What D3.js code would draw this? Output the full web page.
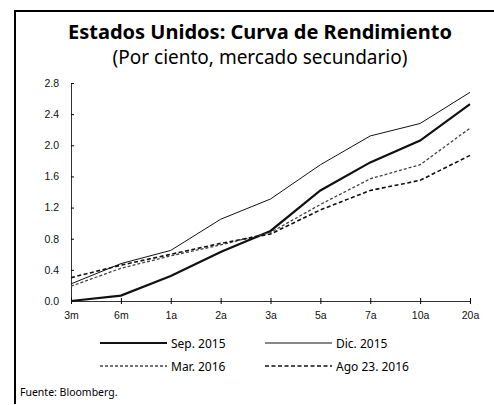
<!DOCTYPE html>
<html>
<head>
<meta charset="utf-8">
<script src="https://cdn.jsdelivr.net/npm/d3@7/dist/d3.min.js"></script>
<style>
  body{margin:0;background:#fff}
  svg{display:block;font-family:"Noto Sans",sans-serif}
</style>
</head>
<body>
<script>
  // datos
  const plazos = ["3m","6m","1a","2a","3a","5a","7a","10a","20a"]
  const sep2015 = [0.00,0.07,0.32,0.63,0.90,1.42,1.78,2.06,2.53]
  const dic2015 = [0.22,0.48,0.65,1.05,1.31,1.75,2.12,2.28,2.68]
  const mar2016 = [0.19,0.42,0.58,0.72,0.88,1.24,1.57,1.75,2.22]
  const ago2016 = [0.30,0.46,0.60,0.74,0.86,1.17,1.42,1.55,1.87]
  const yTicks = [0,0.4,0.8,1.2,1.6,2.0,2.4,2.8]

  const series = [
    {name:"Sep. 2015", values:sep2015, width:2.2, dash:null, color:"#111"},
    {name:"Dic. 2015", values:dic2015, width:1, dash:null, color:"#111"},
    {name:"Mar. 2016", values:mar2016, width:1.3, dash:"3,2", color:"#444"},
    {name:"Ago 23. 2016", values:ago2016, width:1.6, dash:"4,2.5", color:"#111"}
  ]

  const W = 494, H = 405
  const svg = d3.select("body").append("svg").attr("width",W).attr("height",H)

  // marco
  svg.append("path").attr("d",`M15,404 L15,11 L494,11`)
    .attr("fill","none").attr("stroke","#000").attr("stroke-width",2)

  svg.append("text").attr("x",260).attr("y",39).attr("text-anchor","middle")
    .attr("font-size",20).attr("font-weight","bold").text("Estados Unidos: Curva de Rendimiento")
  svg.append("text").attr("x",260).attr("y",64).attr("text-anchor","middle")
    .attr("font-size",19).text("(Por ciento, mercado secundario)")

  const x = d3.scalePoint().domain(plazos).range([71,470])
  const y = d3.scaleLinear().domain([0,2.8]).range([301,83])

  const yAxis = svg.append("g").attr("transform","translate(71,0)")
    .call(d3.axisLeft(y).tickValues(yTicks).tickFormat(d3.format(".1f")).tickSize(-3).tickPadding(12))
  yAxis.select(".domain").attr("stroke","#333")
  yAxis.selectAll("text").attr("font-size",10.5).attr("fill","#111")

  const xAxis = svg.append("g").attr("transform","translate(0,301)")
    .call(d3.axisBottom(x).tickSize(3).tickPadding(8))
  xAxis.select(".domain").attr("stroke","#333")
  xAxis.selectAll(".tick line").attr("y1",-3)
  xAxis.selectAll("text").attr("font-size",10.5).attr("fill","#111")

  const line = d3.line().x((d,i)=>x(plazos[i])).y(d=>y(d))

  svg.selectAll(".serie").data(series).join("path")
    .attr("class","serie")
    .attr("d",d=>line(d.values))
    .attr("fill","none")
    .attr("stroke",d=>d.color)
    .attr("stroke-width",d=>d.width)
    .attr("stroke-dasharray",d=>d.dash)

  // leyenda
  const legPos = [[100,343],[265,343],[100,366],[265,366]]
  const leg = svg.selectAll(".leg").data(series).join("g")
    .attr("class","leg")
    .attr("transform",(d,i)=>`translate(${legPos[i][0]},${legPos[i][1]})`)
  leg.append("line").attr("x1",0).attr("x2",67)
    .attr("stroke",d=>d.color).attr("stroke-width",d=>d.width).attr("stroke-dasharray",d=>d.dash)
  leg.append("text").attr("x",71).attr("y",4.5).attr("font-size",12).text(d=>d.name)

  svg.append("text").attr("x",20).attr("y",396).attr("font-size",10.5).text("Fuente: Bloomberg.")
</script>
</body>
</html>
